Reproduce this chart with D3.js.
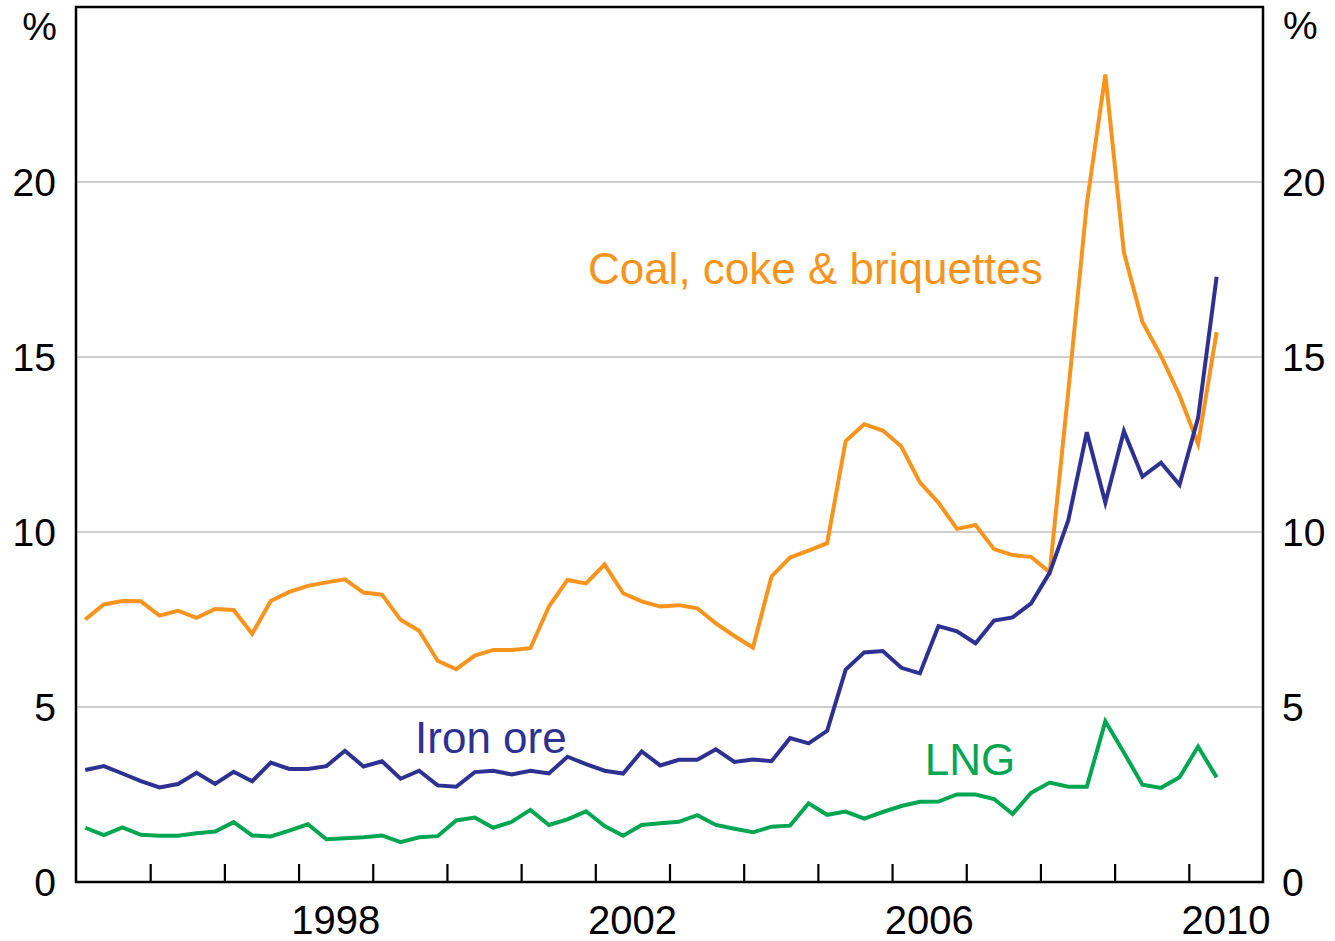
<!DOCTYPE html>
<html>
<head>
<meta charset="utf-8">
<script src="https://cdn.jsdelivr.net/npm/d3@7"></script>
<style>
  body { margin: 0; background: #fff; }
  svg { display: block; font-family: "Liberation Sans", Arial, sans-serif; }
</style>
</head>
<body>
<div id="chart"></div>
<script>
// quarterly, 1995 Q1 to 2010 Q2
const startYear = 1995;
const quarters = d3.range(62).map(i => startYear + Math.floor(i / 4) + "Q" + ((i % 4) + 1));

const coal = [
  7.50, 7.93, 8.03, 8.02, 7.61, 7.75, 7.55, 7.80, 7.77, 7.09,
  8.03, 8.29, 8.46, 8.56, 8.65, 8.27, 8.21, 7.49, 7.18, 6.32,
  6.08, 6.47, 6.63, 6.63, 6.68, 7.87, 8.63, 8.53, 9.07, 8.25,
  8.02, 7.87, 7.91, 7.82, 7.39, 7.03, 6.70, 8.73, 9.27, 9.47,
  9.68, 12.60, 13.08, 12.90, 12.44, 11.42, 10.84, 10.09, 10.20, 9.51,
  9.34, 9.29, 8.85, 14.00, 19.37, 23.07, 17.99, 16.00, 15.03, 13.90,
  12.52, 15.71
];

const ironOre = [
  3.20, 3.31, 3.10, 2.88, 2.70, 2.80, 3.12, 2.80, 3.15, 2.88,
  3.41, 3.23, 3.23, 3.31, 3.75, 3.30, 3.45, 2.95, 3.18, 2.76,
  2.72, 3.14, 3.18, 3.07, 3.18, 3.10, 3.58, 3.37, 3.18, 3.10,
  3.73, 3.33, 3.49, 3.49, 3.79, 3.43, 3.50, 3.45, 4.11, 3.96,
  4.32, 6.07, 6.56, 6.60, 6.12, 5.96, 7.31, 7.16, 6.82, 7.47,
  7.56, 7.96, 8.84, 10.33, 12.85, 10.84, 12.88, 11.58, 11.98, 11.35,
  13.26, 17.29
];

const lng = [
  1.55, 1.34, 1.56, 1.35, 1.32, 1.32, 1.39, 1.44, 1.71, 1.33,
  1.30, 1.47, 1.65, 1.22, 1.25, 1.28, 1.33, 1.14, 1.28, 1.31,
  1.76, 1.84, 1.55, 1.72, 2.06, 1.63, 1.79, 2.02, 1.60, 1.32,
  1.63, 1.68, 1.72, 1.91, 1.63, 1.52, 1.42, 1.58, 1.61, 2.25,
  1.92, 2.01, 1.81, 2.00, 2.17, 2.29, 2.30, 2.50, 2.50, 2.37,
  1.94, 2.55, 2.84, 2.72, 2.72, 4.59, 3.70, 2.78, 2.69, 2.99,
  3.87, 2.99
];

const yTicks = [0, 5, 10, 15, 20];
const yearLabels = [1998, 2002, 2006, 2010];

const series = [
  { name: "Coal, coke & briquettes", values: coal, color: "#F7941D" },
  { name: "Iron ore", values: ironOre, color: "#2E3192" },
  { name: "LNG", values: lng, color: "#00A651" }
];

const width = 1335, height = 941;
const margin = { top: 7, right: 72, bottom: 59, left: 76 };
const innerW = width - margin.left - margin.right;
const innerH = height - margin.top - margin.bottom;

// quarter label -> decimal year at quarter midpoint
const qTime = q => +q.slice(0, 4) + (+q.slice(5) - 1) / 4 + 0.125;

const x = d3.scaleLinear().domain([1995, 2011]).range([0, innerW]);
const y = d3.scaleLinear().domain([0, 25]).range([innerH, 0]);

const svg = d3.select("#chart").append("svg")
  .attr("width", width)
  .attr("height", height);

const g = svg.append("g")
  .attr("transform", "translate(" + margin.left + "," + margin.top + ")");

// gridlines
g.append("g")
  .selectAll("line")
  .data(yTicks.filter(d => d > 0))
  .enter()
  .append("line")
  .attr("x1", 0)
  .attr("x2", innerW)
  .attr("y1", d => y(d))
  .attr("y2", d => y(d))
  .style("stroke", "#BEBEBE")
  .style("stroke-width", 1.6);

// left and right value labels
const fontSize = 39;
g.append("g")
  .selectAll("text")
  .data(yTicks)
  .enter()
  .append("text")
  .attr("x", -20)
  .attr("y", d => y(d))
  .attr("dy", "0.36em")
  .attr("text-anchor", "end")
  .style("font-size", fontSize + "px")
  .text(d => d);

g.append("g")
  .selectAll("text")
  .data(yTicks)
  .enter()
  .append("text")
  .attr("x", innerW + 19)
  .attr("y", d => y(d))
  .attr("dy", "0.36em")
  .attr("text-anchor", "start")
  .style("font-size", fontSize + "px")
  .text(d => d);

g.append("text")
  .attr("x", -19)
  .attr("y", 33)
  .attr("text-anchor", "end")
  .style("font-size", fontSize + "px")
  .text("%");

g.append("text")
  .attr("x", innerW + 20)
  .attr("y", 32)
  .attr("text-anchor", "start")
  .style("font-size", fontSize + "px")
  .text("%");

// x axis with inward ticks at each year boundary
const xAxis = d3.axisBottom(x)
  .tickValues(d3.range(1996, 2011))
  .tickSize(-18)
  .tickFormat("");

g.append("g")
  .attr("class", "axis x")
  .attr("transform", "translate(0," + innerH + ")")
  .call(xAxis)
  .call(s => s.select(".domain").remove())
  .call(s => s.selectAll(".tick line").style("stroke", "#000").style("stroke-width", 2.2));

g.append("g")
  .selectAll("text")
  .data(yearLabels)
  .enter()
  .append("text")
  .attr("x", d => x(d + 0.5))
  .attr("y", innerH + 52)
  .attr("text-anchor", "middle")
  .style("font-size", "40px")
  .text(d => d);

// lines
const line = d3.line()
  .x((d, i) => x(qTime(quarters[i])))
  .y(d => y(d));

g.append("g")
  .attr("class", "lines")
  .selectAll("path")
  .data(series)
  .enter()
  .append("path")
  .attr("d", d => line(d.values))
  .style("fill", "none")
  .style("stroke", d => d.color)
  .style("stroke-width", 4)
  .style("stroke-linejoin", "miter");

// frame
g.append("rect")
  .attr("x", 0)
  .attr("y", 0)
  .attr("width", innerW)
  .attr("height", innerH)
  .style("fill", "none")
  .style("stroke", "#000")
  .style("stroke-width", 2.5);

// series labels
const labels = [
  { text: "Coal, coke & briquettes", color: "#F7941D", at: 2001.9, v: 17.1 },
  { text: "Iron ore", color: "#2E3192", at: 1999.57, v: 3.70 },
  { text: "LNG", color: "#00A651", at: 2006.44, v: 3.05 }
];

g.append("g")
  .selectAll("text")
  .data(labels)
  .enter()
  .append("text")
  .attr("x", d => x(d.at))
  .attr("y", d => y(d.v))
  .style("font-size", "44px")
  .style("fill", d => d.color)
  .text(d => d.text);
</script>
</body>
</html>
